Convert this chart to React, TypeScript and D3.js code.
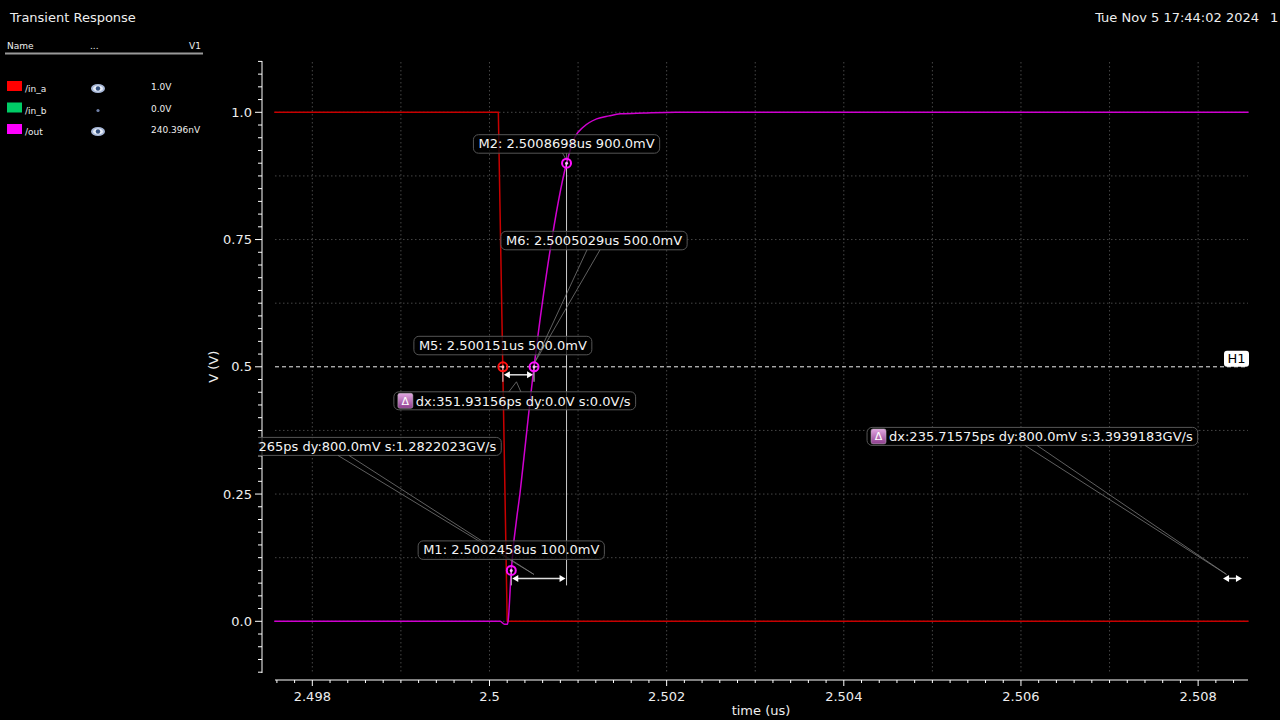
import React, { useRef, useEffect } from "react";
import * as d3 from "d3";

// traces (time in us, volts)
const inATime = [2.49757, 2.5001, 2.5002, 2.50857];
const inAVolt = [1.0, 1.0, 0.0, 0.0];

const outTime = [2.49757, 2.50012, 2.50017, 2.5002, 2.50021, 2.5002458, 2.50035, 2.5005029, 2.50065, 2.5008698, 2.50096, 2.50106, 2.50121, 2.50135, 2.50148, 2.50174, 2.5021, 2.50857];
const outVolt = [0, 0, -0.006, -0.006, 0.0, 0.1, 0.26, 0.5, 0.69, 0.9, 0.95, 0.971, 0.987, 0.993, 0.997, 0.9985, 1.0, 1.0];

const xTickValues = [2.498, 2.5, 2.502, 2.504, 2.506, 2.508];
const xTickLabels = ["2.498", "2.5", "2.502", "2.504", "2.506", "2.508"];
const yTickValues = [0, 0.25, 0.5, 0.75, 1.0];
const yTickLabels = ["0.0", "0.25", "0.5", "0.75", "1.0"];

const markerNames = ["M1", "M2", "M5", "M6"];
const markerTimes = ["2.5002458", "2.5008698", "2.500151", "2.5005029"];
const markerVolts = [0.1, 0.9, 0.5, 0.5];
const markerTrace = ["out", "out", "in_a", "out"];

const deltaLabels = [
  "dx:623.9265ps dy:800.0mV s:1.2822023GV/s",
  "dx:351.93156ps dy:0.0V s:0.0V/s",
  "dx:235.71575ps dy:800.0mV s:3.3939183GV/s",
];
const deltaStart = [2.5002458, 2.500151, 2.50827];
const deltaEnd = [2.5008698, 2.5005029, 2.5085057];
const deltaStartVolt = [0.1, 0.5, 0.1];
const deltaEndVolt = [0.9, 0.5, 0.9];

const legendNames = ["/in_a", "/in_b", "/out"];
const legendValues = ["1.0V", "0.0V", "240.396nV"];
const legendShown = [true, false, true];
const hLineValue = 0.5;

const traceColor: any = { in_a: "#c80000", in_b: "#00c060", out: "#d000d0" };
const swatchColor = ["#ff0000", "#00cc66", "#ff00ff"];
const markerColor: any = { in_a: "#ff1010", out: "#ff10ff" };
const markerDot: any = { in_a: "#ffc0c0", out: "#ffc0ff" };

// label placement (px offsets)
const markerLayout: any = {
  M1: { dx: 0, dy: -11, leader: false },
  M2: { dx: 0, dy: -10, leader: true },
  M5: { dx: 0, dy: -12, leader: false },
  M6: { dx: 60, dy: -117, leader: true },
};
const deltaLayout = [
  { anchor: "right", offX: -10, offY: -141, lead: [159, 170], side: "bottom", tgt: [-5, -4], ext: true },
  { anchor: "left", offX: -109, offY: 17, lead: [115, 127], side: "top", tgt: [-2, 7], ext: true },
  { anchor: "left", offX: -355, offY: -151, lead: [158, 170], side: "bottom", tgt: [-6, -4], ext: false },
];

const FONT = "DejaVu Sans, sans-serif";

const App = () => {
  const ref = useRef<SVGSVGElement>(null);

  useEffect(() => {
    const svg = d3.select(ref.current);
    svg.selectAll("*").remove();

    const x = d3.scaleLinear().domain([2.497573, 2.508563]).range([274.5, 1248]);
    const y = d3.scaleLinear().domain([-0.1, 1.1]).range([672.2, 61.4]);

    const defs = svg.append("defs");
    defs.append("clipPath").attr("id", "annClip")
      .append("rect").attr("x", 258).attr("y", 0).attr("width", 1022).attr("height", 720);
    const grad = defs.append("linearGradient").attr("id", "deltaGrad")
      .attr("x1", 0).attr("y1", 0).attr("x2", 0).attr("y2", 1);
    grad.append("stop").attr("offset", "0%").attr("stop-color", "#e2a8e2");
    grad.append("stop").attr("offset", "100%").attr("stop-color", "#8e3e8e");

    svg.append("rect").attr("width", 1280).attr("height", 720).attr("fill", "#000");

    // titles
    svg.append("text").attr("x", 10).attr("y", 22).text("Transient Response")
      .attr("fill", "#eee").style("font-size", "13px");
    svg.append("text").attr("x", 1259).attr("y", 22).attr("text-anchor", "end")
      .text("Tue Nov 5 17:44:02 2024").attr("fill", "#eee").style("font-size", "13px");
    svg.append("text").attr("x", 1270).attr("y", 22).text("1")
      .attr("fill", "#eee").style("font-size", "13px");

    // legend panel
    const lg = svg.append("g").style("font-size", "9px").attr("fill", "#eee");
    lg.append("text").attr("x", 7).attr("y", 49).text("Name");
    lg.append("text").attr("x", 90).attr("y", 49).text("...");
    lg.append("text").attr("x", 201).attr("y", 49).attr("text-anchor", "end").text("V1");
    lg.append("line").attr("x1", 5).attr("x2", 203).attr("y1", 53.5).attr("y2", 53.5)
      .attr("stroke", "#999").attr("stroke-width", 2);
    legendNames.forEach((n, i) => {
      const cy = 87 + i * 21.5;
      lg.append("rect").attr("x", 7).attr("y", cy - 6).attr("width", 15).attr("height", 10)
        .attr("fill", swatchColor[i]);
      lg.append("text").attr("x", 25).attr("y", cy + 5).text(n);
      lg.append("text").attr("x", 151).attr("y", cy + 3).text(legendValues[i]);
      if (legendShown[i]) {
        lg.append("ellipse").attr("cx", 98).attr("cy", cy + 1.5).attr("rx", 7).attr("ry", 4.5)
          .attr("fill", "#a8b8d8");
        lg.append("ellipse").attr("cx", 98).attr("cy", cy + 1.5).attr("rx", 5).attr("ry", 3)
          .attr("fill", "#e8eef8");
        lg.append("circle").attr("cx", 98).attr("cy", cy + 1.5).attr("r", 2.2).attr("fill", "#34507e");
      } else {
        lg.append("circle").attr("cx", 98).attr("cy", cy + 2).attr("r", 1.6).attr("fill", "#7080a8");
      }
    });

    // grid
    const grid = svg.append("g").attr("stroke", "#464646").attr("stroke-dasharray", "1.5,2.5");
    const gridX = d3.range(0, 11).map((i) => 2.498 + i * 0.001);
    const gridY = d3.range(0, 9).map((i) => i * 0.125).filter((v) => v !== hLineValue);
    grid.selectAll(".gx").data(gridX).enter().append("line")
      .attr("x1", (d) => x(d)).attr("x2", (d) => x(d)).attr("y1", 62).attr("y2", 673);
    grid.selectAll(".gy").data(gridY).enter().append("line")
      .attr("x1", 275).attr("x2", 1248).attr("y1", (d) => y(d)).attr("y2", (d) => y(d));

    // H1
    svg.append("line").attr("x1", 275).attr("x2", 1248).attr("y1", y(hLineValue)).attr("y2", y(hLineValue))
      .attr("stroke", "#f0f0f0").attr("stroke-dasharray", "4,3");
    svg.append("rect").attr("x", 1224).attr("y", y(hLineValue) - 16).attr("width", 25).attr("height", 16)
      .attr("rx", 3).attr("fill", "#fff");
    svg.append("text").attr("x", 1236.5).attr("y", y(hLineValue) - 3.5).attr("text-anchor", "middle")
      .text("H1").attr("fill", "#000").style("font-size", "13px");

    // axes
    const ax = svg.append("g").attr("stroke", "#fff");
    ax.append("line").attr("x1", 262).attr("x2", 262).attr("y1", 61).attr("y2", 673);
    ax.append("line").attr("x1", 275).attr("x2", 1248).attr("y1", 680).attr("y2", 680);
    const yMinor = d3.range(0, 49).map((i) => +(-0.1 + i * 0.025).toFixed(3));
    ax.selectAll(".ym").data(yMinor).enter().append("line")
      .attr("x1", (d) => (yTickValues.includes(d) ? 255 : 258)).attr("x2", 262)
      .attr("y1", (d) => y(d)).attr("y2", (d) => y(d));
    const xMinor = d3.range(0, 55).map((i) => +(2.4976 + i * 0.0002).toFixed(4)).filter((d) => x(d) <= 1248);
    ax.selectAll(".xm").data(xMinor).enter().append("line")
      .attr("x1", (d) => x(d)).attr("x2", (d) => x(d)).attr("y1", 680)
      .attr("y2", (d) => (xTickValues.some((t) => Math.abs(t - d) < 1e-7) ? 686 : 683));

    svg.selectAll(".yl").data(yTickValues).enter().append("text")
      .attr("x", 252).attr("y", (d) => y(d) + 4.5).attr("text-anchor", "end")
      .text((d, i) => yTickLabels[i]).attr("fill", "#eee").style("font-size", "13px");
    svg.selectAll(".xl").data(xTickValues).enter().append("text")
      .attr("x", (d) => x(d)).attr("y", 701).attr("text-anchor", "middle")
      .text((d, i) => xTickLabels[i]).attr("fill", "#eee").style("font-size", "13px");
    svg.append("text").attr("x", 761).attr("y", 715).attr("text-anchor", "middle")
      .text("time (us)").attr("fill", "#eee").style("font-size", "13px");
    svg.append("text").attr("transform", `translate(218,${y(0.5)}) rotate(-90)`)
      .attr("text-anchor", "middle").text("V (V)").attr("fill", "#eee").style("font-size", "13px");

    // traces
    const inA = inATime.map((t, i) => [x(t), y(inAVolt[i])] as [number, number]);
    const out = outTime.map((t, i) => [x(t), y(outVolt[i])] as [number, number]);
    svg.append("path").attr("d", d3.line()(inA)).attr("fill", "none")
      .attr("stroke", traceColor.in_a).attr("stroke-width", 1.5);
    svg.append("path").attr("d", d3.line().curve(d3.curveMonotoneX)(out)).attr("fill", "none")
      .attr("stroke", traceColor.out).attr("stroke-width", 1.5);

    const ann = svg.append("g").attr("clip-path", "url(#annClip)");

    // delta extension lines and arrows
    deltaLabels.forEach((lab, i) => {
      const L = deltaLayout[i];
      const x1 = x(deltaStart[i]);
      const x2 = x(deltaEnd[i]);
      const ay = y(deltaStartVolt[i]) + 8;
      if (L.ext) {
        ann.append("line").attr("x1", x1).attr("x2", x1).attr("y1", y(deltaStartVolt[i])).attr("y2", ay + 7)
          .attr("stroke", "#ccc");
        ann.append("line").attr("x1", x2).attr("x2", x2).attr("y1", y(deltaEndVolt[i])).attr("y2", ay + 7)
          .attr("stroke", "#ccc");
      }
      ann.append("line").attr("x1", x1 + 4).attr("x2", x2 - 4).attr("y1", ay).attr("y2", ay)
        .attr("stroke", "#ddd").attr("stroke-width", 1.5);
      ann.append("path").attr("d", `M${x1 + 1},${ay} L${x1 + 7},${ay - 3.5} L${x1 + 7},${ay + 3.5} Z`).attr("fill", "#fff");
      ann.append("path").attr("d", `M${x2 - 1},${ay} L${x2 - 7},${ay - 3.5} L${x2 - 7},${ay + 3.5} Z`).attr("fill", "#fff");

      // label box
      const g = ann.append("g");
      const txt = g.append("text").text(lab).attr("fill", "#f4f4f4").style("font-size", "13px");
      const tw = (txt.node() as SVGTextElement).getComputedTextLength();
      const bw = 22 + tw + 5;
      const left = L.anchor === "right" ? x1 + L.offX - bw : x1 + L.offX;
      const top = ay + L.offY;
      txt.attr("x", left + 22).attr("y", top + 14);
      g.insert("rect", "text").attr("x", left).attr("y", top).attr("width", bw).attr("height", 18)
        .attr("rx", 5).attr("fill", "rgba(0,0,0,0.75)").attr("stroke", "#555");
      g.append("rect").attr("x", left + 4).attr("y", top + 1.5).attr("width", 15).attr("height", 15)
        .attr("rx", 2).attr("fill", "url(#deltaGrad)").attr("stroke", "#bbb").attr("stroke-width", 0.5);
      g.append("text").attr("x", left + 11.5).attr("y", top + 13).attr("text-anchor", "middle")
        .text("Δ").attr("fill", "#fff").style("font-size", "11px");
      const ey = L.side === "bottom" ? top + 18 : top;
      const tx = (x1 + x2) / 2 + L.tgt[0];
      const ty = ay + L.tgt[1];
      L.lead.forEach((o) => {
        ann.append("line").attr("x1", left + o).attr("y1", ey).attr("x2", tx).attr("y2", ty)
          .attr("stroke", "#777").attr("stroke-width", 0.8);
      });
    });

    // markers
    markerNames.forEach((n, i) => {
      const mx = x(+markerTimes[i]);
      const my = y(markerVolts[i]);
      const L = markerLayout[n];
      const g = ann.append("g");
      const lab = `${n}: ${markerTimes[i]}us ${(markerVolts[i] * 1000).toFixed(1)}mV`;
      const txt = g.append("text").text(lab).attr("fill", "#f4f4f4").style("font-size", "13px");
      const tw = (txt.node() as SVGTextElement).getComputedTextLength();
      const bw = tw + 10;
      const cx = mx + L.dx;
      const bottom = my + L.dy;
      txt.attr("x", cx - tw / 2).attr("y", bottom - 5);
      g.insert("rect", "text").attr("x", cx - bw / 2).attr("y", bottom - 18.5).attr("width", bw).attr("height", 18.5)
        .attr("rx", 5).attr("fill", "rgba(0,0,0,0.75)").attr("stroke", "#555");
      if (L.leader) {
        const spread = n === "M6" ? [-7, 6] : [-4, 0];
        spread.forEach((o) => {
          ann.append("line").attr("x1", cx + o).attr("y1", bottom).attr("x2", mx).attr("y2", my - 3)
            .attr("stroke", "#777").attr("stroke-width", 0.8);
        });
      }
      const c = markerColor[markerTrace[i]];
      ann.append("circle").attr("cx", mx).attr("cy", my).attr("r", 4.5).attr("fill", "none")
        .attr("stroke", c).attr("stroke-width", 2);
      ann.append("circle").attr("cx", mx).attr("cy", my).attr("r", 1.5).attr("fill", markerDot[markerTrace[i]]);
    });
  }, []);

  return (
    <svg ref={ref} width={1280} height={720}
      style={{ position: "fixed", left: 0, top: 0, fontFamily: FONT, background: "#000" }} />
  );
};

export default App;
